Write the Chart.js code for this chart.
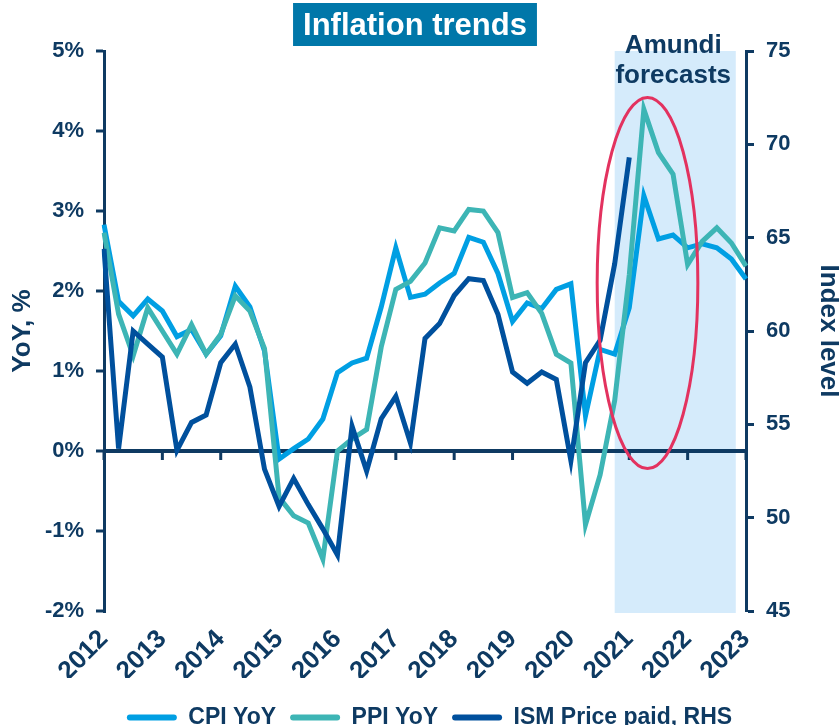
<!DOCTYPE html>
<html>
<head>
<meta charset="utf-8">
<script src="https://cdn.jsdelivr.net/npm/chart.js@4.4.1/dist/chart.umd.min.js"></script>
<style>
  html, body { margin: 0; padding: 0; background: #fff; }
  #wrap { width: 839px; height: 725px; position: relative; }
</style>
</head>
<body>
<div id="wrap"><canvas id="inflation-chart"></canvas></div>
<script>
// quarterly data, 2012 Q1 -> 2023 Q1
var years = [2012, 2013, 2014, 2015, 2016, 2017, 2018, 2019, 2020, 2021, 2022, 2023];
var quarterNames = ["Q1", "Q2", "Q3", "Q4"];

var cpiYoY = [2.83, 1.87, 1.69, 1.90, 1.75, 1.43, 1.52, 1.21, 1.44, 2.06, 1.80, 1.25,
              -0.10, 0.03, 0.15, 0.40, 0.98, 1.10, 1.16, 1.80, 2.54, 1.92, 1.96, 2.10,
              2.22, 2.67, 2.61, 2.22, 1.62, 1.85, 1.78, 2.02, 2.09, 0.44, 1.27, 1.21,
              1.79, 3.19, 2.65, 2.70, 2.54, 2.59, 2.54, 2.40, 2.15];
var ppiYoY = [2.73, 1.71, 1.19, 1.79, 1.50, 1.21, 1.58, 1.21, 1.46, 1.94, 1.75, 1.28,
              -0.58, -0.81, -0.90, -1.35, 0.00, 0.15, 0.27, 1.30, 2.02, 2.12, 2.35, 2.79,
              2.75, 3.02, 3.00, 2.73, 1.92, 1.98, 1.72, 1.21, 1.10, -0.92, -0.30, 0.63,
              2.20, 4.27, 3.73, 3.46, 2.33, 2.62, 2.79, 2.60, 2.31];
var ismPricesPaid = [64.4, 53.7, 60.0, 59.3, 58.6, 53.6, 55.1, 55.5, 58.3, 59.3, 57.0, 52.6,
                     50.6, 52.1, 50.7, 49.4, 48.0, 54.9, 52.5, 55.3, 56.5, 54.0, 59.6, 60.4,
                     61.9, 62.8, 62.7, 60.9, 57.8, 57.2, 57.8, 57.4, 53.05, 58.3, 59.5, 63.6,
                     69.3];

var leftTicks = [-2, 5, 1];   // min, max, step
var rightTicks = [45, 75, 5];

var quarters = [];
years.forEach(function (y) {
  quarterNames.forEach(function (q) { quarters.push(q + " " + y); });
});
quarters = quarters.slice(0, cpiYoY.length);

// forecast window (in quarter index units) and highlighted zone
var forecastFrom = 35, forecastTo = 43.3;
var highlight = { x0: 33.8, x1: 40.7, y0: -0.22, y1: 4.42 };

var navy = "#0e3a62";
var fontFamily = '"Liberation Sans", Arial, Helvetica, sans-serif';

var decorations = {
  id: "decorations",
  beforeDraw: function (chart) {
    var ctx = chart.ctx, area = chart.chartArea, x = chart.scales.x;
    var x0 = x.getPixelForValue(forecastFrom), x1 = x.getPixelForValue(forecastTo);
    ctx.save();
    ctx.fillStyle = "#d5ebfb";
    ctx.fillRect(x0, area.top, x1 - x0, area.bottom - area.top + 2);

    ctx.fillStyle = navy;
    ctx.font = "bold 26px " + fontFamily;
    ctx.textAlign = "center";
    ctx.textBaseline = "alphabetic";
    var cx = (x0 + x1) / 2;
    ctx.fillText("Amundi", cx - 2, 53);
    ctx.fillText("forecasts", cx - 2, 83);

    // title box
    ctx.font = "bold 31px " + fontFamily;
    var t = "Inflation trends";
    var w = ctx.measureText(t).width;
    ctx.fillStyle = "#0077a9";
    ctx.fillRect(415 - w / 2 - 10, 3, w + 20, 43);
    ctx.fillStyle = "#ffffff";
    ctx.textBaseline = "middle";
    ctx.fillText(t, 415, 26);
    ctx.restore();
  },
  beforeDatasetsDraw: function (chart) {
    var ctx = chart.ctx, x = chart.scales.x, y = chart.scales.y;
    var y0 = y.getPixelForValue(0);
    ctx.save();
    ctx.strokeStyle = navy;
    ctx.lineWidth = 3;
    quarters.forEach(function (q, i) {
      if (i % 4 !== 0) return;
      var px = x.getPixelForValue(i);
      ctx.beginPath();
      ctx.moveTo(px, y0);
      ctx.lineTo(px, y0 + 9);
      ctx.stroke();
    });
    ctx.restore();
  },
  afterDatasetsDraw: function (chart) {
    var ctx = chart.ctx, x = chart.scales.x, y = chart.scales.y;
    var ex0 = x.getPixelForValue(highlight.x0), ex1 = x.getPixelForValue(highlight.x1);
    var ey0 = y.getPixelForValue(highlight.y1), ey1 = y.getPixelForValue(highlight.y0);
    ctx.save();
    ctx.strokeStyle = "#e3325f";
    ctx.lineWidth = 3;
    ctx.beginPath();
    ctx.ellipse((ex0 + ex1) / 2, (ey0 + ey1) / 2, (ex1 - ex0) / 2, (ey1 - ey0) / 2, 0, 0, Math.PI * 2);
    ctx.stroke();
    ctx.restore();
  },
  afterLayout: function (chart) {
    // legend sits right of centre and a bit lower in the original
    chart.legend.left += 10;
    chart.legend.right += 10;
    chart.legend.top += 14;
    chart.legend.bottom += 14;
  }
};

var config = {
  type: "line",
  data: {
    labels: quarters,
    datasets: [
      {
        label: "CPI YoY",
        data: cpiYoY,
        borderColor: "#009fe3",
        backgroundColor: "#009fe3",
        yAxisID: "y",
        order: 3
      },
      {
        label: "PPI YoY",
        data: ppiYoY,
        borderColor: "#3db5b5",
        backgroundColor: "#3db5b5",
        yAxisID: "y",
        order: 2
      },
      {
        label: "ISM Price paid, RHS",
        data: ismPricesPaid,
        borderColor: "#00509d",
        backgroundColor: "#00509d",
        yAxisID: "y1",
        order: 1
      }
    ]
  },
  options: {
    responsive: true,
    maintainAspectRatio: false,
    animation: false,
    layout: { padding: { top: 51, left: 0, right: 0, bottom: 0 } },
    elements: {
      line: { borderWidth: 5, tension: 0, borderJoinStyle: "miter", borderCapStyle: "butt" },
      point: { radius: 0, hoverRadius: 0 }
    },
    plugins: {
      legend: {
        position: "bottom",
        labels: {
          color: navy,
          font: { family: fontFamily, size: 23, weight: "bold" },
          boxWidth: 50,
          boxHeight: 6,
          useBorderRadius: true,
          borderRadius: 3,
          padding: 14,
          generateLabels: function (chart) {
            var items = Chart.defaults.plugins.legend.labels.generateLabels(chart);
            items.forEach(function (it) { it.lineWidth = 0; it.fillStyle = it.strokeStyle; });
            return items.sort(function (a, b) { return a.datasetIndex - b.datasetIndex; });
          }
        }
      },
      tooltip: { enabled: false }
    },
    scales: {
      x: {
        type: "category",
        offset: false,
        border: { display: false },
        grid: { display: false },
        afterFit: function (scale) { scale.height = 67; },
        ticks: {
          autoSkip: false,
          maxRotation: 45,
          minRotation: 45,
          padding: 5,
          color: navy,
          font: { family: fontFamily, size: 26, weight: "bold" },
          callback: function (v, i) {
            return i % 4 === 0 ? quarters[i].split(" ")[1] : "";
          }
        }
      },
      y: {
        position: "left",
        min: leftTicks[0],
        max: leftTicks[1],
        afterFit: function (scale) { scale.width = 104; },
        border: { display: true, color: navy, width: 3 },
        grid: {
          drawOnChartArea: true,
          color: function (c) { return c.tick && c.tick.value === 0 ? navy : "rgba(0,0,0,0)"; },
          lineWidth: 4,
          tickColor: navy,
          tickWidth: 3,
          tickLength: 8
        },
        ticks: {
          stepSize: leftTicks[2],
          padding: 12,
          color: navy,
          font: { family: fontFamily, size: 22, weight: "bold" },
          callback: function (v) { return v + "%"; }
        },
        title: {
          display: true,
          text: "YoY, %",
          color: navy,
          padding: { top: 7, bottom: 0 },
          font: { family: fontFamily, size: 26, weight: "bold" }
        }
      },
      y1: {
        position: "right",
        min: rightTicks[0],
        max: rightTicks[1],
        afterFit: function (scale) { scale.width = 93; },
        border: { display: true, color: navy, width: 3 },
        grid: {
          drawOnChartArea: false,
          tickColor: navy,
          tickWidth: 3,
          tickLength: 8
        },
        ticks: {
          stepSize: rightTicks[2],
          padding: 12,
          color: navy,
          font: { family: fontFamily, size: 22, weight: "bold" }
        },
        title: {
          display: true,
          text: "Index level",
          color: navy,
          padding: { top: 0, bottom: 0 },
          font: { family: fontFamily, size: 26, weight: "bold", lineHeight: 0.8 }
        }
      }
    }
  },
  plugins: [decorations]
};

var ctx = document.getElementById("inflation-chart").getContext("2d");
window.inflationChart = new Chart(ctx, config);
</script>
</body>
</html>
